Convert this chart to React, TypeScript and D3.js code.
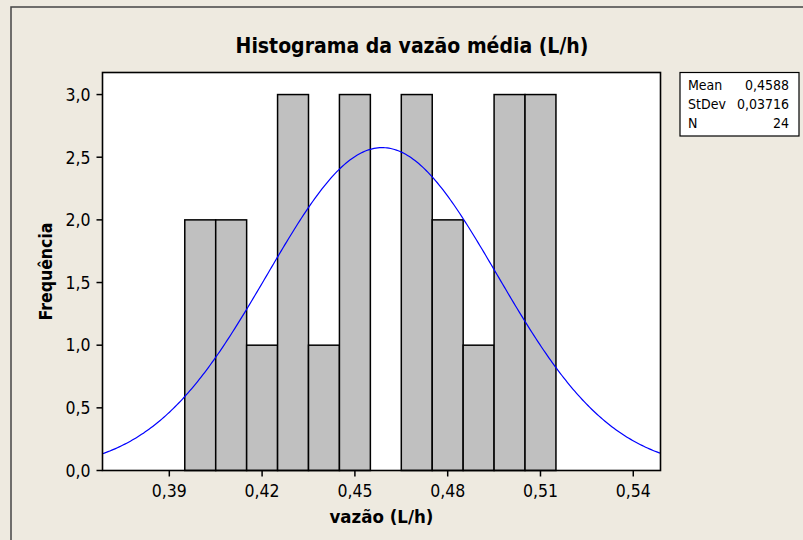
import React from "react";
import * as d3 from "d3";

// Bin midpoints (L/h) and counts per bin
const binCenters = [0.40, 0.41, 0.42, 0.43, 0.44, 0.45, 0.46, 0.47, 0.48, 0.49, 0.50, 0.51];
const binCounts = [2, 2, 1, 3, 1, 3, 0, 3, 2, 1, 3, 3];
const binWidth = 0.01;

const xTicks = [0.39, 0.42, 0.45, 0.48, 0.51, 0.54];
const yTicks = [0, 0.5, 1.0, 1.5, 2.0, 2.5, 3.0];

// Summary statistics shown in the stats box
const statLabels = ["Mean", "StDev", "N"];
const statValues = ["0,4588", "0,03716", "24"];
const mean = 0.4588;
const stdev = 0.03716;
const nObs = 24;

const W = 803;
const H = 540;
const plot = { left: 102.5, right: 660.5, top: 72.5, bottom: 470.5 };
const FONT = "'DejaVu Sans Condensed', 'DejaVu Sans', sans-serif";
const BG = "#EEEAE0";

const fmt = (v: number, d: number) => v.toFixed(d).replace(".", ",");

export default function App() {
  const x = d3
    .scaleLinear()
    .domain([0.3684, 0.5488])
    .range([plot.left, plot.right]);
  const y = d3
    .scaleLinear()
    .domain([0, 3.176])
    .range([plot.bottom, plot.top]);

  // Fitted normal curve scaled to counts per bin
  const [x0, x1] = x.domain();
  const curvePts: [number, number][] = d3.range(0, 301).map((i) => {
    const v = x0 + ((x1 - x0) * i) / 300;
    const z = (v - mean) / stdev;
    const dens = (nObs * binWidth) / (stdev * Math.sqrt(2 * Math.PI)) * Math.exp(-0.5 * z * z);
    return [v, dens];
  });
  const line = d3
    .line<[number, number]>()
    .x((d) => x(d[0]))
    .y((d) => y(d[1]))
    .curve(d3.curveLinear);

  const plotCx = (plot.left + plot.right) / 2;
  const plotCy = (plot.top + plot.bottom) / 2;

  return (
    <svg
      width={W}
      height={H}
      style={{ position: "absolute", left: 0, top: 0, display: "block" }}
      fontFamily={FONT}
    >
      <rect x={0} y={0} width={W} height={H} fill={BG} />
      {/* outer frame */}
      <rect x={11} y={7} width={W + 20} height={H + 20} fill="none" stroke="#444" strokeWidth={1.5} />

      <text
        x={412}
        y={53}
        textAnchor="middle"
        fontSize={21}
        fontWeight="bold"
        fill="#000"
      >
        Histograma da vazão média (L/h)
      </text>

      {/* plot area */}
      <rect
        x={plot.left}
        y={plot.top}
        width={plot.right - plot.left}
        height={plot.bottom - plot.top}
        fill="#fff"
      />

      {binCenters.map((c, i) => (
        <rect
          key={i}
          x={x(c - binWidth / 2)}
          y={y(binCounts[i])}
          width={x(c + binWidth / 2) - x(c - binWidth / 2)}
          height={y(0) - y(binCounts[i])}
          fill="#C0C0C0"
          stroke="#000"
          strokeWidth={1.5}
        />
      ))}

      <path d={line(curvePts) ?? ""} fill="none" stroke="#0000FF" strokeWidth={1.2} />

      <rect
        x={plot.left}
        y={plot.top}
        width={plot.right - plot.left}
        height={plot.bottom - plot.top}
        fill="none"
        stroke="#000"
        strokeWidth={1.6}
      />

      {/* y axis */}
      {yTicks.map((t) => (
        <g key={t}>
          <line x1={plot.left - 6} x2={plot.left} y1={y(t)} y2={y(t)} stroke="#000" strokeWidth={1.5} />
          <text x={plot.left - 12} y={y(t)} dy="0.36em" textAnchor="end" fontSize={17.5} fill="#000">
            {fmt(t, 1)}
          </text>
        </g>
      ))}
      <text
        transform={`translate(52,${plotCy}) rotate(-90)`}
        textAnchor="middle"
        fontSize={17.5}
        fontWeight="bold"
        fill="#000"
      >
        Frequência
      </text>

      {/* x axis */}
      {xTicks.map((t) => (
        <g key={t}>
          <line x1={x(t)} x2={x(t)} y1={plot.bottom} y2={plot.bottom + 6} stroke="#000" strokeWidth={1.5} />
          <text x={x(t)} y={497} textAnchor="middle" fontSize={17.5} fill="#000">
            {fmt(t, 2)}
          </text>
        </g>
      ))}
      <text x={plotCx} y={523} textAnchor="middle" fontSize={18.5} fontWeight="bold" fill="#000">
        vazão (L/h)
      </text>

      {/* stats box */}
      <rect x={680} y={72.5} width={119} height={63.5} fill="#fff" stroke="#000" strokeWidth={1.2} />
      {statLabels.map((s, i) => (
        <g key={s}>
          <text x={688} y={90 + i * 19} fontSize={14} fill="#000">
            {s}
          </text>
          <text x={789} y={90 + i * 19} fontSize={14} textAnchor="end" fill="#000">
            {statValues[i]}
          </text>
        </g>
      ))}
    </svg>
  );
}
